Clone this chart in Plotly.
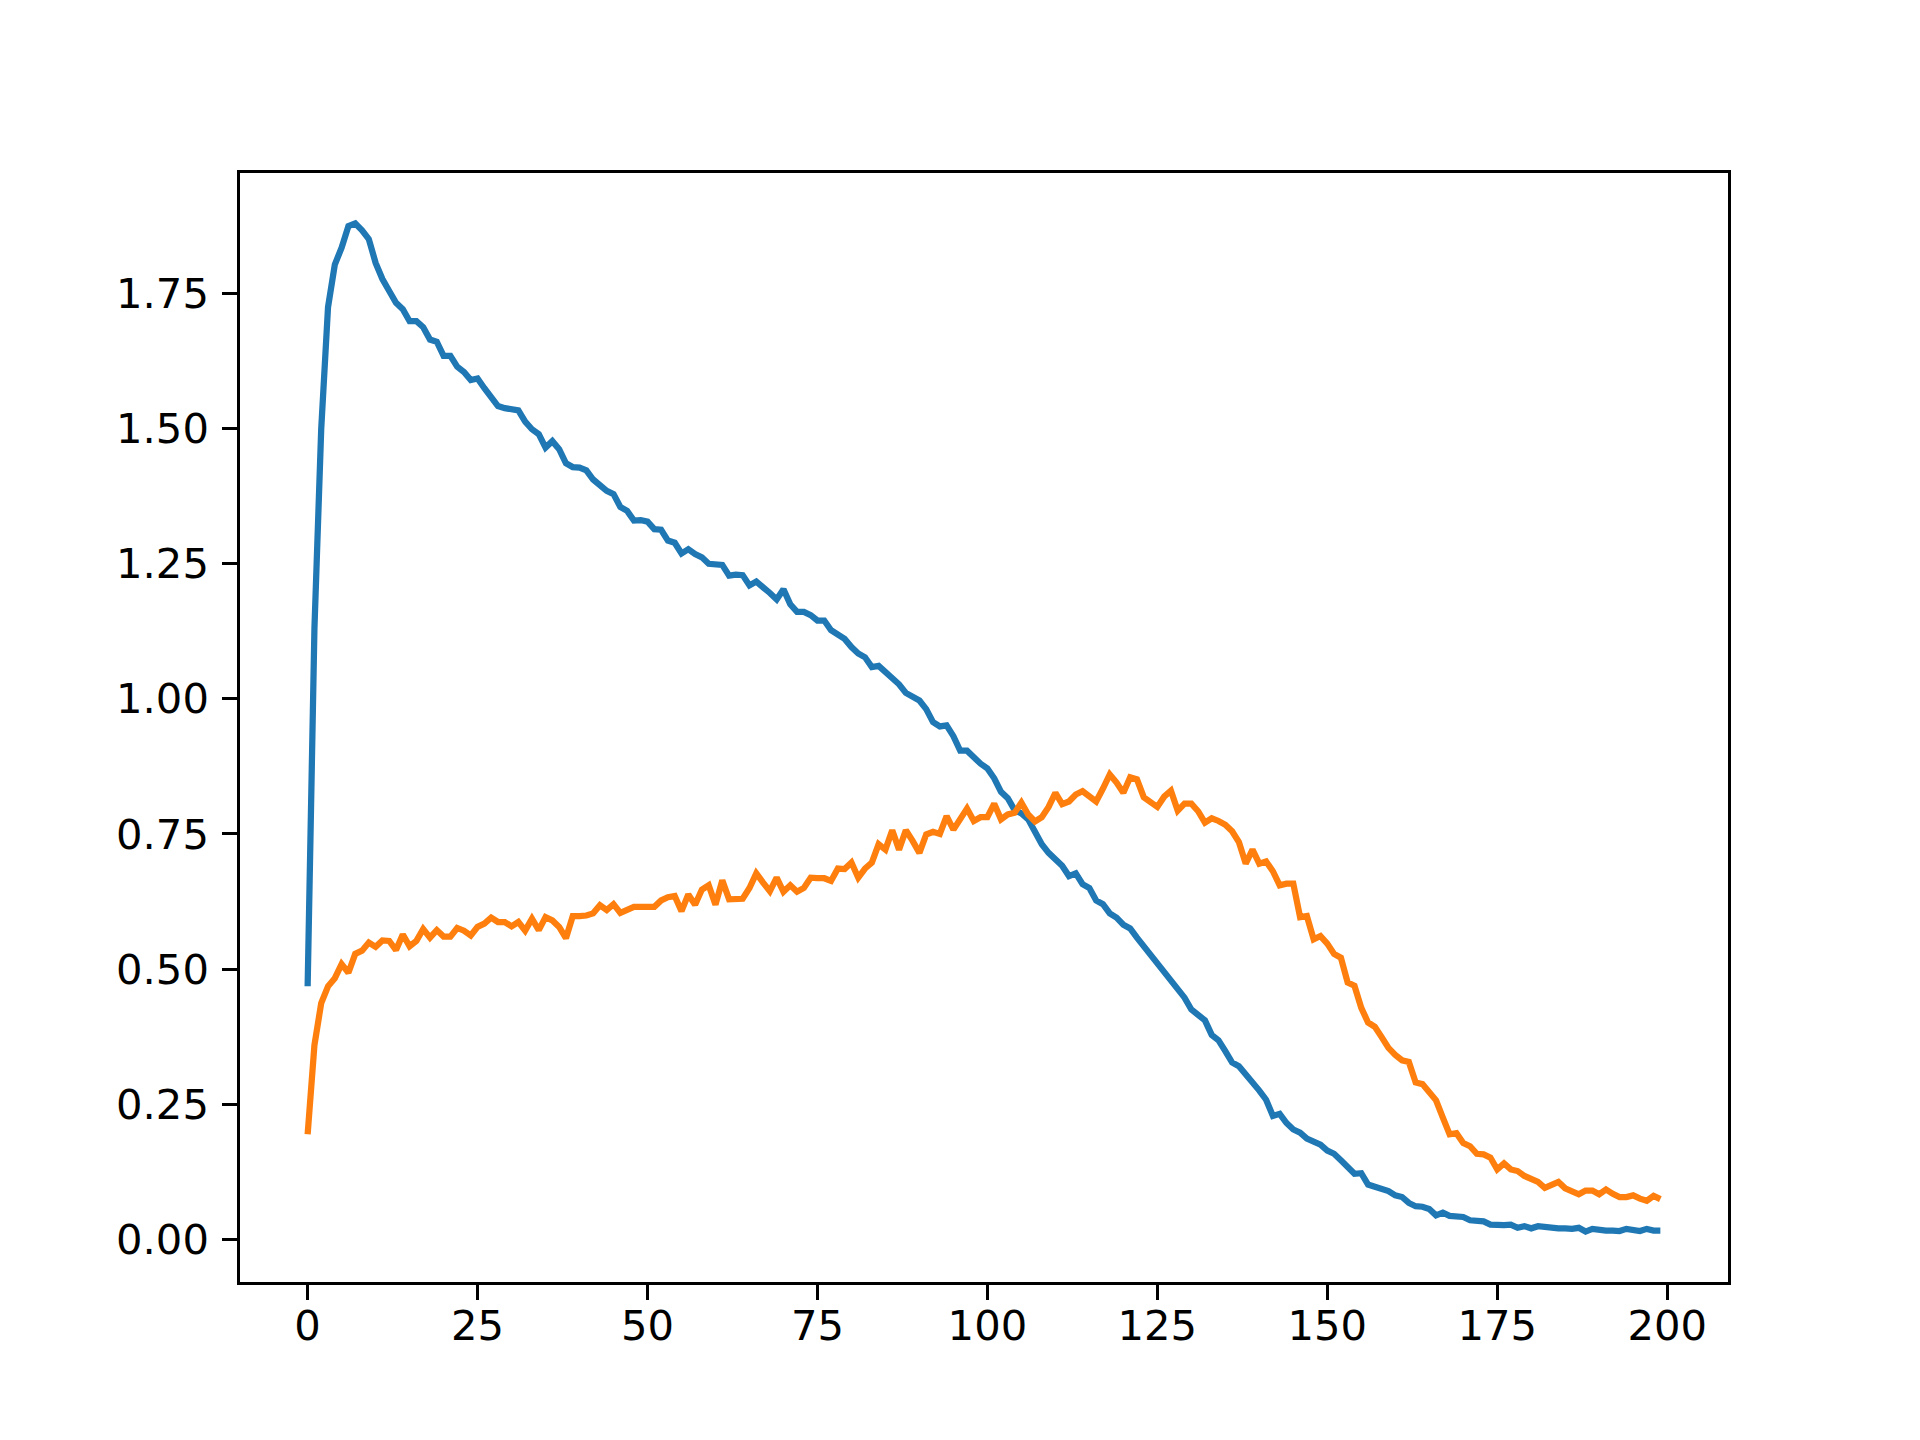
import plotly.graph_objects as go

# two series, 200 samples each (index 0..199)
blue_vals = [
    0.468, 1.130, 1.500, 1.725, 1.804, 1.835, 1.875, 1.880, 1.867, 1.851,
    1.807, 1.777, 1.755, 1.733, 1.721, 1.699, 1.699, 1.688, 1.665, 1.661,
    1.635, 1.635, 1.615, 1.605, 1.590, 1.593, 1.575, 1.557, 1.542, 1.538,
    1.537, 1.534, 1.513, 1.499, 1.490, 1.465, 1.477, 1.462, 1.436, 1.429,
    1.428, 1.423, 1.406, 1.394, 1.385, 1.379, 1.355, 1.348, 1.330, 1.331,
    1.328, 1.314, 1.313, 1.293, 1.289, 1.269, 1.277, 1.268, 1.262, 1.250,
    1.250, 1.248, 1.228, 1.230, 1.229, 1.210, 1.217, 1.208, 1.196, 1.184,
    1.203, 1.175, 1.161, 1.161, 1.155, 1.145, 1.145, 1.127, 1.118, 1.111,
    1.096, 1.084, 1.077, 1.059, 1.061, 1.050, 1.037, 1.027, 1.011, 1.005,
    0.997, 0.981, 0.957, 0.949, 0.951, 0.931, 0.904, 0.904, 0.890, 0.880,
    0.871, 0.853, 0.828, 0.816, 0.794, 0.788, 0.777, 0.755, 0.731, 0.715,
    0.703, 0.691, 0.672, 0.677, 0.657, 0.650, 0.627, 0.620, 0.603, 0.595,
    0.582, 0.575, 0.558, 0.542, 0.528, 0.512, 0.493, 0.479, 0.464, 0.447,
    0.425, 0.416, 0.405, 0.378, 0.368, 0.348, 0.327, 0.320, 0.306, 0.292,
    0.275, 0.258, 0.228, 0.232, 0.215, 0.203, 0.197, 0.186, 0.182, 0.175,
    0.164, 0.158, 0.146, 0.132, 0.121, 0.122, 0.101, 0.097, 0.093, 0.089,
    0.081, 0.078, 0.067, 0.061, 0.060, 0.056, 0.044, 0.049, 0.043, 0.043,
    0.041, 0.035, 0.033, 0.033, 0.027, 0.026, 0.026, 0.027, 0.021, 0.024,
    0.020, 0.024, 0.022, 0.020, 0.020, 0.020, 0.019, 0.021, 0.014, 0.019,
    0.017, 0.016, 0.016, 0.015, 0.019, 0.016, 0.015, 0.019, 0.016, 0.016,
]

orange_vals = [
    0.194, 0.359, 0.437, 0.468, 0.483, 0.509, 0.493, 0.528, 0.534, 0.549,
    0.541, 0.553, 0.552, 0.535, 0.564, 0.542, 0.552, 0.574, 0.558, 0.572,
    0.560, 0.560, 0.576, 0.571, 0.562, 0.578, 0.584, 0.595, 0.587, 0.587,
    0.579, 0.587, 0.571, 0.593, 0.572, 0.596, 0.590, 0.578, 0.557, 0.598,
    0.598, 0.599, 0.603, 0.618, 0.609, 0.620, 0.604, 0.608, 0.615, 0.615,
    0.615, 0.615, 0.627, 0.633, 0.635, 0.607, 0.638, 0.619, 0.647, 0.655,
    0.619, 0.664, 0.629, 0.630, 0.630, 0.650, 0.677, 0.660, 0.644, 0.669,
    0.643, 0.655, 0.643, 0.650, 0.669, 0.668, 0.668, 0.663, 0.686, 0.685,
    0.697, 0.669, 0.686, 0.697, 0.731, 0.721, 0.757, 0.721, 0.757, 0.737,
    0.715, 0.749, 0.754, 0.750, 0.783, 0.758, 0.779, 0.797, 0.774, 0.781,
    0.781, 0.806, 0.777, 0.786, 0.789, 0.808, 0.786, 0.773, 0.781, 0.800,
    0.826, 0.805, 0.810, 0.823, 0.829, 0.820, 0.810, 0.834, 0.860, 0.845,
    0.826, 0.855, 0.851, 0.818, 0.808, 0.800, 0.819, 0.830, 0.793, 0.806,
    0.806, 0.792, 0.771, 0.779, 0.774, 0.767, 0.755, 0.735, 0.695, 0.721,
    0.695, 0.699, 0.681, 0.655, 0.658, 0.658, 0.596, 0.598, 0.555, 0.561,
    0.547, 0.528, 0.521, 0.475, 0.469, 0.428, 0.401, 0.393, 0.374, 0.354,
    0.341, 0.331, 0.328, 0.290, 0.287, 0.271, 0.257, 0.225, 0.194, 0.196,
    0.178, 0.172, 0.158, 0.157, 0.151, 0.129, 0.140, 0.129, 0.126, 0.117,
    0.110, 0.106, 0.095, 0.102, 0.106, 0.094, 0.089, 0.083, 0.090, 0.090,
    0.083, 0.092, 0.084, 0.078, 0.078, 0.081, 0.075, 0.071, 0.080, 0.074,
]

x_idx = list(range(len(blue_vals)))

x_ticks = [0, 25, 50, 75, 100, 125, 150, 175, 200]
y_ticks = [0.00, 0.25, 0.50, 0.75, 1.00, 1.25, 1.50, 1.75]

# matplotlib-like auto limits (5% padding on each side)
all_y = blue_vals + orange_vals
y_pad = 0.05 * (max(all_y) - min(all_y))
x_pad = 0.05 * (x_idx[-1] - x_idx[0])

fig = go.Figure()
fig.add_trace(go.Scatter(x=x_idx, y=blue_vals, mode="lines",
                         line=dict(color="#1f77b4", width=6.25)))
fig.add_trace(go.Scatter(x=x_idx, y=orange_vals, mode="lines",
                         line=dict(color="#ff7f0e", width=6.25)))

axis_style = dict(
    showline=True, mirror=True, linecolor="black", linewidth=3.3,
    ticks="outside", ticklen=14.6, tickwidth=3.3, tickcolor="black",
    showgrid=False, zeroline=False,
    tickfont=dict(family="DejaVu Sans", size=41.7, color="black"),
)

fig.update_xaxes(range=[x_idx[0] - x_pad, x_idx[-1] + x_pad],
                 tickvals=x_ticks, ticktext=[str(t) for t in x_ticks],
                 ticklabelstandoff=-10, **axis_style)
fig.update_yaxes(range=[min(all_y) - y_pad, max(all_y) + y_pad],
                 tickvals=y_ticks, ticktext=["%.2f" % t for t in y_ticks],
                 ticklabelstandoff=5, **axis_style)

fig.update_layout(
    width=1920, height=1440, autosize=False,
    margin=dict(l=240, r=192, t=173, b=158, pad=0),
    plot_bgcolor="white", paper_bgcolor="white",
    showlegend=False,
)

# drop the default page margin so the figure sits at the window corner
fig.write_html("out.html", config={"displayModeBar": False},
               post_script="document.body.style.margin='0';")
